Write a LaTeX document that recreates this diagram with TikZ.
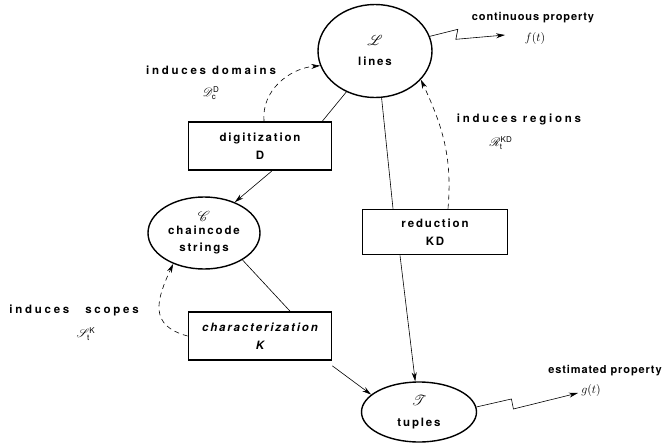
\documentclass[tikz,border=0pt]{standalone}
\usepackage{fontspec}
\setmainfont{TeX Gyre Heros}[LetterSpace=16]
\usepackage{amsmath}
\usepackage{mathrsfs}
\usetikzlibrary{shapes, arrows.meta, positioning}
\tikzstyle{set} = [ellipse, draw=black, line width=1.4pt, inner sep=0pt, align=center]
\tikzstyle{op} = [rectangle, draw=black, line width=1.7pt, minimum width=143pt, minimum height=48pt, align=center]
\tikzstyle{arrow} = [ -{Stealth[length=9pt,width=5pt]} ,semithick]
\tikzstyle{induce} = [ -{Stealth[length=9pt,width=5pt]} ,semithick, dash pattern=on 5pt off 4pt]
\tikzstyle{wide} = [font=\fontsize{11.5}{13}\selectfont\bfseries\addfontfeatures{LetterSpace=24}]
\tikzstyle{narrow} = [font=\fontsize{11}{13}\selectfont\bfseries\addfontfeatures{LetterSpace=8}]

\begin{document}
\begin{tikzpicture}[x=1pt,y=-1pt,every node/.style={font=\fontsize{11.5}{13}\selectfont\bfseries}]
\useasboundingbox (0,0) rectangle (669,442);

\node(lines) [set, minimum width=114pt, minimum height=93pt] at (375,51) {\Large$\mathscr{L}$\\[7pt] lines};

\node(chain) [set, minimum width=112pt, minimum height=72pt] at (204,233) {\Large$\mathscr{C}$\\[0pt] chaincode\\[4pt] strings};

\node(tuples) [set, minimum width=115pt, minimum height=60pt] at (419,412) {\Large$\mathscr{T}$\\[8pt] tuples};

\node(digit) [op] at (260,146) {digitization\\[5pt] D};

\node(charac) [op] at (260,336) {\itshape characterization\\[5pt] \itshape K};

\node(reduc) [op, minimum width=145pt, minimum height=45pt] at (435,232) {reduction\\[5pt] KD};

% labels
\node(cont)[narrow] at (533,18) {continuous property};
\node(fcont)[below=2pt of cont, xshift=2pt]{\large$f(t)$};
\node(est)[narrow] at (605,371) {estimated property};
\node(gest)[below=1pt of est, xshift=-14pt]{\large$g(t)$};
\node(dom)[wide] at (211,70) {induces domains};
\node(domset)[below=5pt of dom]{\large$\mathscr{D}_{\mathrm{c}}^{\mathrm{D}}$};
\node(reg)[wide] at (519,119) {induces regions};
\node(regset)[below=5pt of reg, xshift=-18pt]{\large$\mathscr{R}_{\mathrm{t}}^{\mathrm{KD}}$};
\node(scope)[wide] at (74,310) {induces\hspace{10pt} scopes};
\node(scopeset)[below=5pt of scope, xshift=12pt]{\large$\mathscr{S}_{\mathrm{t}}^{\mathrm{K}}$};

\coordinate (fend) at (505,35);
\coordinate (gend) at (578,393);

\draw[arrow] (lines.15) -- ++(28,-7) -- ++(-2,10) -- (fend);
\draw[arrow] (tuples.5) -- ++(35,-8) -- ++(2,10) -- (gend);

\draw[semithick] (lines.235) -- ([xshift=-10pt]digit.north east);
\draw[arrow] ([xshift=12pt]digit.south) -- (chain.45);
\draw[semithick] (lines.-82) -- ([xshift=-42pt]reduc.north);
\draw[arrow] ([xshift=-35pt]reduc.south) -- (tuples.97);
\draw[semithick] (chain.-35) -- ([xshift=30pt]charac.north);
\draw[arrow] ([yshift=-5pt]charac.south east) -- (tuples.160);

\draw[induce] ([xshift=4pt]digit.north) to[out=95,in=185] (lines.195);
\draw[induce] ([xshift=13pt]reduc.north) to[out=85,in=-65] (lines.-32);
\draw[induce] (charac.west) to[out=165,in=245,looseness=1.4] (chain.-135);

\end{tikzpicture}
\end{document}
